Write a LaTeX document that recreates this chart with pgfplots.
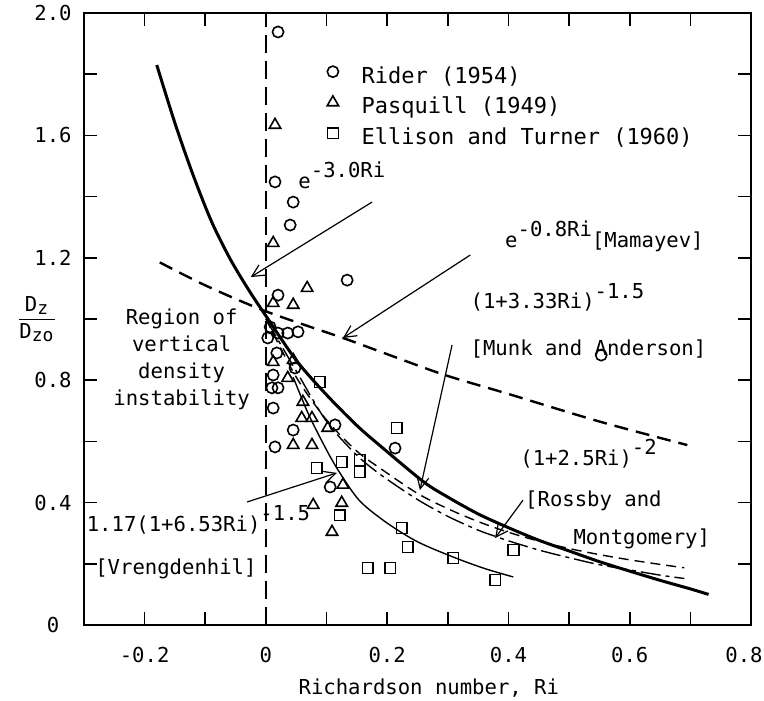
\documentclass[border=0pt]{standalone}
\usepackage{pgfplots}
\pgfplotsset{compat=1.18}
\usepackage{fontspec}
\setmainfont{DejaVu Sans Mono}
\usetikzlibrary{arrows.meta}
\begin{document}
\fontsize{10.3}{12.4}\selectfont
\begin{tikzpicture}
\useasboundingbox (-42pt,-37.5pt) rectangle (340pt,312.5pt);
\begin{axis}[
 scale only axis, width=333.5pt, height=306pt,
 xmin=-0.3, xmax=0.8, ymin=0, ymax=2.0,
 xtick={-0.2,0,0.2,0.4,0.6,0.8},
 xticklabels={-0.2,0,0.2,0.4,0.6,\hspace*{-7pt}0.8},
 minor xtick={-0.1,0.1,0.3,0.5,0.7},
 ytick={0,0.4,0.8,1.2,1.6,2.0},
 yticklabels={0,0.4,0.8,1.2,1.6,2.0},
 minor ytick={0.2,0.6,1.0,1.4,1.8},
 tick align=inside,
 major tick length=6.5pt, minor tick length=6.5pt,
 axis line style={line width=1pt},
 every tick/.style={black, line width=0.8pt},
 xticklabel style={anchor=center, yshift=-15pt},
 yticklabel style={anchor=center, xshift=-15.5pt},
 clip=false,
 legend style={at={(0.364,0.917)}, anchor=north west, draw=none, fill=none,
   inner sep=0pt, row sep=1.9pt, column sep=10pt, font=\fontsize{11}{13}\selectfont,
   nodes={inner sep=1.5pt, text height=8pt, text depth=2.5pt, anchor=west}},
 legend image code/.code={\draw[#1] plot coordinates {(0pt,3pt)};},
]
% Rider (1954)
\addplot[only marks, mark=o, mark size=2.8pt, mark options={line width=0.8pt}] coordinates {
(0.020,1.938) (0.015,1.448) (0.045,1.382) (0.040,1.307) (0.020,1.078) (0.134,1.127)
(0.007,0.974) (0.003,0.938) (0.020,0.954) (0.036,0.954) (0.053,0.958)
(0.018,0.889) (0.048,0.840) (0.012,0.817) (0.010,0.775) (0.020,0.775)
(0.012,0.709) (0.114,0.654) (0.045,0.637) (0.015,0.582) (0.213,0.578)
(0.106,0.451) (0.553,0.882)
};
% Pasquill (1949)
\addplot[only marks, mark=triangle, mark size=3.3pt, mark options={line width=0.8pt}] coordinates {
(0.015,1.634) (0.012,1.248) (0.068,1.101) (0.045,1.046) (0.012,1.052)
(0.012,0.859) (0.045,0.866) (0.036,0.807) (0.061,0.729) (0.059,0.676) (0.076,0.676)
(0.102,0.644) (0.045,0.588) (0.076,0.588) (0.127,0.458) (0.078,0.392) (0.125,0.399)
(0.109,0.304)
};
% Ellison and Turner (1960)
\addplot[only marks, mark=square, mark size=2.7pt, mark options={line width=0.8pt}] coordinates {
(0.089,0.794) (0.216,0.644) (0.084,0.513) (0.125,0.533) (0.155,0.539) (0.155,0.500)
(0.122,0.359) (0.224,0.317) (0.234,0.255) (0.168,0.186) (0.205,0.186)
(0.309,0.219) (0.408,0.245) (0.378,0.147)
};
\legend{Rider (1954), Pasquill (1949), Ellison and Turner (1960)}
% vertical dashed line Ri = 0
\addplot[forget plot, line width=0.9pt, dash pattern=on 9pt off 4pt] coordinates {(0,0) (0,2)};
% e^{-3.0Ri}
\addplot[forget plot, line width=1.5pt, smooth] coordinates {
(-0.18,1.83) (-0.15,1.64) (-0.12,1.47) (-0.09,1.32) (-0.06,1.20) (-0.03,1.10) (0,1.01)
(0.05,0.865) (0.10,0.752) (0.15,0.652) (0.19,0.583) (0.26,0.468) (0.30,0.418)
(0.35,0.363) (0.40,0.318) (0.45,0.277) (0.50,0.242) (0.55,0.207) (0.60,0.176)
(0.65,0.146) (0.70,0.118) (0.73,0.100)
};
% e^{-0.8Ri}
\addplot[forget plot, line width=1.2pt, dash pattern=on 7pt off 4pt, smooth] coordinates {
(-0.175,1.185) (-0.10,1.11) (0,1.025) (0.127,0.938) (0.20,0.885) (0.295,0.817)
(0.40,0.755) (0.55,0.665) (0.695,0.588)
};
% (1+3.33Ri)^-1.5
\addplot[forget plot, line width=0.7pt, dash pattern=on 5pt off 3pt, smooth] coordinates {
(0,1.0) (0.05,0.81) (0.10,0.67) (0.15,0.568) (0.19,0.51) (0.25,0.43) (0.30,0.38)
(0.35,0.338) (0.40,0.303) (0.45,0.274) (0.50,0.25) (0.55,0.23) (0.60,0.213)
(0.65,0.198) (0.69,0.187)
};
% (1+2.5Ri)^-2
\addplot[forget plot, line width=0.7pt, dash pattern=on 10pt off 2.5pt on 2pt off 2.5pt, smooth] coordinates {
(0,1.0) (0.05,0.83) (0.10,0.665) (0.15,0.555) (0.19,0.49) (0.25,0.41) (0.30,0.355)
(0.35,0.31) (0.378,0.29) (0.40,0.275) (0.45,0.245) (0.50,0.22) (0.55,0.197)
(0.60,0.18) (0.65,0.163) (0.69,0.152)
};
% 1.17(1+6.53Ri)^-1.5
\addplot[forget plot, line width=0.7pt, smooth] coordinates {
(0.045,0.81) (0.07,0.69) (0.10,0.572) (0.122,0.497) (0.155,0.405) (0.20,0.333)
(0.25,0.272) (0.309,0.222) (0.36,0.185) (0.408,0.157)
};
% arrows
\draw[-{Straight Barb[length=6pt,width=6pt]}, line width=0.6pt] (axis cs:0.175,1.382) -- (axis cs:-0.025,1.137);
\draw[-{Straight Barb[length=6pt,width=6pt]}, line width=0.6pt] (axis cs:0.337,1.209) -- (axis cs:0.127,0.938);
\draw[-{Straight Barb[length=6pt,width=6pt]}, line width=0.6pt] (axis cs:0.307,0.915) -- (axis cs:0.254,0.441);
\draw[-{Straight Barb[length=6pt,width=6pt]}, line width=0.6pt] (axis cs:0.424,0.408) -- (axis cs:0.378,0.284);
\draw[-{Straight Barb[length=6pt,width=6pt]}, line width=0.6pt] (axis cs:-0.031,0.402) -- (axis cs:0.117,0.497);
% labels
\node[anchor=base west, inner sep=0pt] at (axis cs:0.053,1.428) {e\raisebox{5.5pt}{-3.0Ri}};
\node[anchor=base west, inner sep=0pt] at (axis cs:0.394,1.235) {e\raisebox{5.5pt}{-0.8Ri}[Mamayev]};
\node[anchor=base west, inner sep=0pt] at (axis cs:0.337,1.035) {(1+3.33Ri)\raisebox{5pt}{-1.5}};
\node[anchor=base west, inner sep=0pt] at (axis cs:0.337,0.880) {[Munk and Anderson]};
\node[anchor=base west, inner sep=0pt] at (axis cs:0.419,0.520) {(1+2.5Ri)\raisebox{5.5pt}{-2}};
\node[anchor=base west, inner sep=0pt] at (axis cs:0.427,0.386) {[Rossby and};
\node[anchor=base east, inner sep=0pt] at (axis cs:0.733,0.262) {Montgomery]};
\node[align=center, inner sep=0pt, font=\linespread{1.1}\selectfont] at (axis cs:-0.139,0.868) {Region of\\vertical\\density\\instability};
\node[anchor=base west, inner sep=0pt] at (axis cs:-0.296,0.305) {1.17(1+6.53Ri)\raisebox{5.5pt}{-1.5}};
\node[anchor=base west, inner sep=0pt] at (axis cs:-0.282,0.165) {[Vrengdenhil]};
\node at (axis description cs:-0.0705,0.5) {$\displaystyle\frac{\mbox{D}_{\mbox{\small z}}}{\mbox{D}_{\mbox{\small zo}}}$};
\node at (axis description cs:0.517,-0.103) {Richardson number, Ri};
\end{axis}
\end{tikzpicture}
\end{document}
